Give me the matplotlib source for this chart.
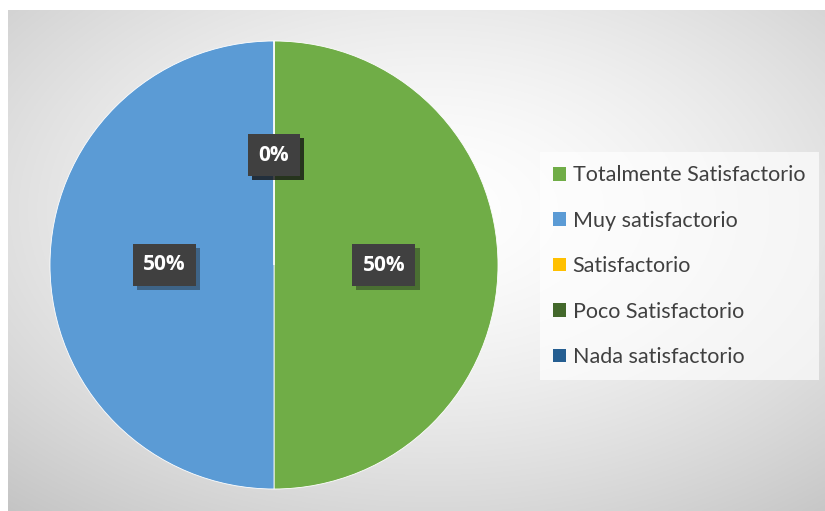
import numpy as np
import matplotlib.pyplot as plt
from matplotlib.patches import Rectangle
import matplotlib.patheffects as pe

# data
categories = ['Totalmente Satisfactorio', 'Muy satisfactorio', 'Satisfactorio',
              'Poco Satisfactorio', 'Nada satisfactorio']
values = [50, 50, 0, 0, 0]
colors = ['#70AD47', '#5B9BD5', '#FFC000', '#43682B', '#255E91']

plt.rcParams['font.family'] = ['Lato', 'DejaVu Sans']

W, H = 825, 511
fig = plt.figure(figsize=(W / 100, H / 100), dpi=100)
fig.patch.set_facecolor('white')

# radial gradient background of the chart area
bg = fig.add_axes([8 / W, 0, 1 - 8 / W, 1 - 10 / H])
yy, xx = np.mgrid[0:1:300j, 0:1:500j]
d = np.sqrt(((xx - 0.52) / 0.75) ** 2 + ((yy - 0.40) / 0.75) ** 2)
d = np.clip(d / d.max(), 0, 1)
shade = 1 - 0.23 * d ** 1.5
bg.imshow(np.dstack([shade] * 3), aspect='auto', extent=[0, 1, 1, 0])
bg.set_axis_off()

# pie
ax = fig.add_axes([50 / W, 22 / H, 448 / W, 448 / H])
wedges, texts, autotexts = ax.pie(
    values, colors=colors, startangle=90, counterclock=False, radius=1,
    autopct='%1.0f%%', pctdistance=0.49,
    wedgeprops=dict(edgecolor='white', linewidth=0.6),
    textprops=dict(color='white', fontsize=15, fontweight='bold',
                   family=['Open Sans', 'DejaVu Sans']))
ax.set_xlim(-1, 1)
ax.set_ylim(-1, 1)
ax.set_aspect('equal')

for t in autotexts:
    t.set_bbox(dict(boxstyle='square,pad=0.5', facecolor='#404040', edgecolor='none'))
    t.get_bbox_patch().set_path_effects([pe.SimplePatchShadow(offset=(3, -3), alpha=0.4), pe.Normal()])

# legend
handles = [Rectangle((0, 0), 1, 1, facecolor=c, edgecolor='none') for c in colors]
leg = fig.legend(handles, categories, loc='upper left',
                 bbox_to_anchor=(540 / W, 1 - 152 / H), borderaxespad=0,
                 fontsize=15.5, frameon=True, fancybox=False,
                 handlelength=0.6, handleheight=0.6, handletextpad=0.3,
                 labelspacing=1.18, borderpad=0.62)
leg.get_frame().set_facecolor('white')
leg.get_frame().set_alpha(0.65)
leg.get_frame().set_edgecolor('none')
for t in leg.get_texts():
    t.set_color('#404040')

fig.savefig('out.png', dpi=100)
